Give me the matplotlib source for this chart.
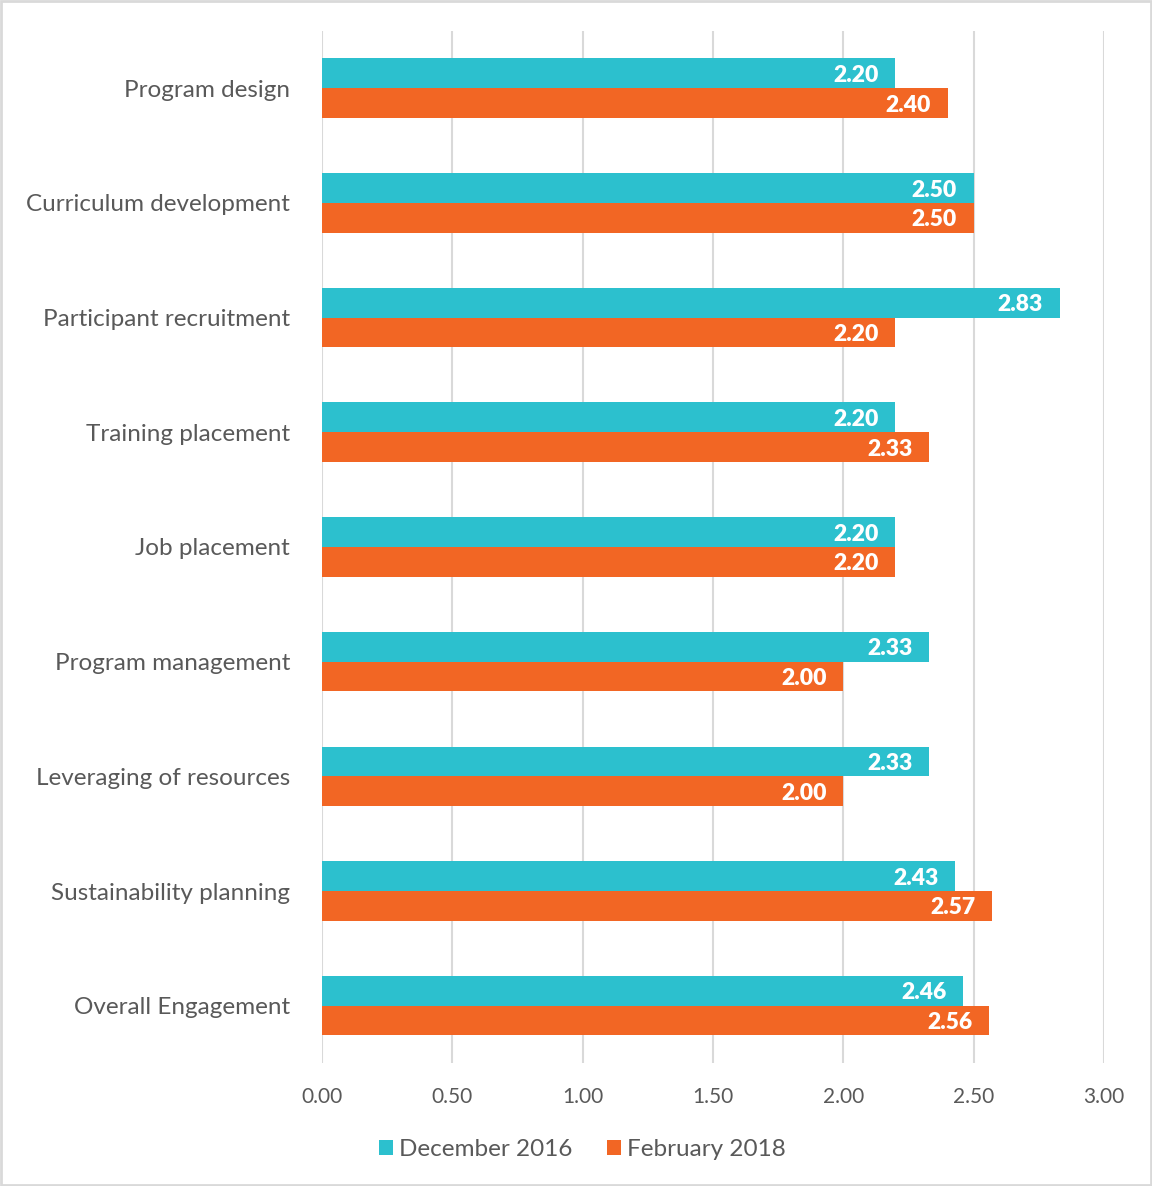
import numpy as np
import matplotlib.pyplot as plt
from matplotlib.patches import Rectangle

plt.rcParams['font.family'] = ['Lato', 'DejaVu Sans']

# Donnees
categories = ["Program design", "Curriculum development", "Participant recruitment",
              "Training placement", "Job placement", "Program management",
              "Leveraging of resources", "Sustainability planning", "Overall Engagement"]
dec_2016 = [2.20, 2.50, 2.83, 2.20, 2.20, 2.33, 2.33, 2.43, 2.46]
feb_2018 = [2.40, 2.50, 2.20, 2.33, 2.20, 2.00, 2.00, 2.57, 2.56]
series_names = ["December 2016", "February 2018"]
xticks = [0.0, 0.5, 1.0, 1.5, 2.0, 2.5, 3.0]

teal = '#2CC0CE'
orange = '#F26624'
txt = '#595959'
grid = '#D9D9D9'

fig = plt.figure(figsize=(11.52, 11.86), dpi=100)
ax = fig.add_axes([0.2795, 0.1037, 0.6788, 0.8702])

y = np.arange(len(categories))
h = 0.26
b1 = ax.barh(y - h / 2, dec_2016, height=h, color=teal, zorder=3)
b2 = ax.barh(y + h / 2, feb_2018, height=h, color=orange, zorder=3)

for bars, vals in [(b1, dec_2016), (b2, feb_2018)]:
    for bar, v in zip(bars, vals):
        ax.annotate(f"{v:.2f}", (v, bar.get_y() + bar.get_height() / 2),
                    xytext=(-12, -1.5), textcoords='offset points',
                    ha='right', va='center', color='white',
                    fontsize=16.5, fontweight='heavy', zorder=4)

ax.set_xlim(0, 3)
ax.set_ylim(len(categories) - 0.5, -0.5)
ax.set_xticks(xticks)
ax.set_xticklabels([f"{t:.2f}" for t in xticks], fontsize=15, color=txt)
ax.set_yticks(y)
ax.set_yticklabels(categories, fontsize=17.5, color=txt)
ax.tick_params(axis='y', length=0, pad=23)
ax.tick_params(axis='x', length=0, pad=17)
ax.xaxis.grid(True, color=grid, linewidth=1.5, zorder=0)
for s in ax.spines.values():
    s.set_visible(False)

ax.legend([b1, b2], series_names, loc='center', bbox_to_anchor=(0.333, -0.084),
          ncol=2, frameon=False, fontsize=17.5, labelcolor=txt,
          handlelength=0.6, handleheight=0.6, handletextpad=0.25, columnspacing=1.4)

fig.patches.append(Rectangle((0.001, 0.001), 0.998, 0.998, transform=fig.transFigure,
                             fill=False, edgecolor=grid, linewidth=2))

fig.savefig('out.png', dpi=100)
